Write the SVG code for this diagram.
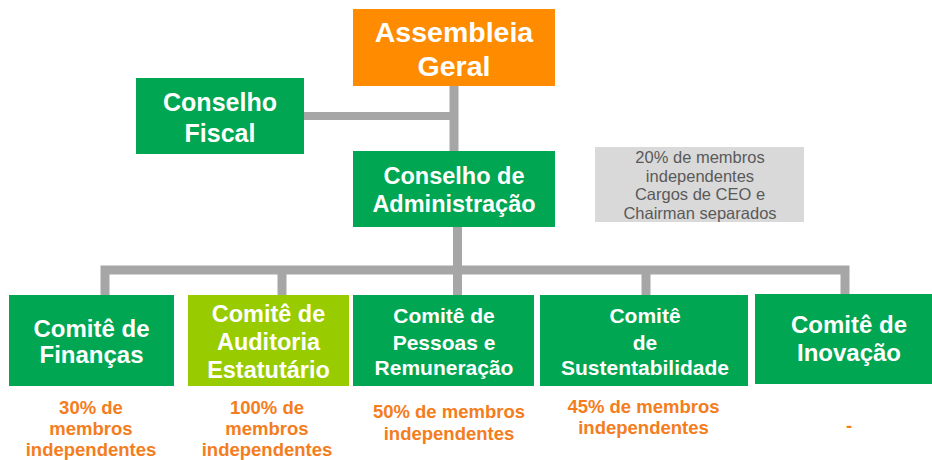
<svg xmlns="http://www.w3.org/2000/svg" width="932" height="460" viewBox="0 0 932 460">
<style>
.t{font-family:"Liberation Sans",Arial,sans-serif;font-weight:bold;fill:#ffffff;text-anchor:middle}
.g{fill:#00A651}
.o{font-family:"Liberation Sans",Arial,sans-serif;font-weight:bold;fill:#F47D20;text-anchor:middle;font-size:18.5px}
.n{font-family:"Liberation Sans",Arial,sans-serif;fill:#595959;text-anchor:middle;font-size:16.5px}
.c{fill:none;stroke:#A6A6A6;stroke-width:9}
</style>
<rect width="932" height="460" fill="#ffffff"/>
<g id="connectors">
<path class="c" d="M454,86 V151"/>
<path class="c" d="M304,116 H454" style="stroke-width:8"/>
<path class="c" d="M457.5,227 V295"/>
<path class="c" d="M105,295 V270 H845 V295"/>
<path class="c" d="M282,270 V295"/>
<path class="c" d="M646,270 V295"/>
</g>
<g id="assembleia">
<rect x="353" y="9" width="202" height="77" fill="#FF8C00"/>
<text class="t" x="454" y="42" font-size="28.5">Assembleia</text>
<text class="t" x="454" y="76" font-size="28.5">Geral</text>
</g>
<g id="conselho-fiscal">
<rect class="g" x="136" y="78" width="168" height="76"/>
<text class="t" x="220" y="111" font-size="25">Conselho</text>
<text class="t" x="220" y="142" font-size="25">Fiscal</text>
</g>
<g id="conselho-administracao">
<rect class="g" x="353" y="151" width="202" height="76"/>
<text class="t" x="454" y="184" font-size="23.5">Conselho de</text>
<text class="t" x="454" y="212" font-size="23.5">Administração</text>
</g>
<g id="nota-conselho">
<rect x="595" y="147" width="209" height="75" fill="#D9D9D9"/>
<text class="n" x="700" y="163">20% de membros</text>
<text class="n" x="700" y="182">independentes</text>
<text class="n" x="700" y="200">Cargos de CEO e</text>
<text class="n" x="700" y="219">Chairman separados</text>
</g>
<g id="comite-financas">
<rect class="g" x="9" y="295" width="165" height="91"/>
<text class="t" x="91.5" y="337" font-size="24">Comitê de</text>
<text class="t" x="91.5" y="363" font-size="24">Finanças</text>
<text class="o" x="91" y="414">30% de</text>
<text class="o" x="91" y="435">membros</text>
<text class="o" x="91" y="456">independentes</text>
</g>
<g id="comite-auditoria">
<rect x="188" y="295" width="161" height="91" fill="#99CC00"/>
<text class="t" x="268.5" y="322" font-size="23.5">Comitê de</text>
<text class="t" x="268.5" y="350" font-size="23.5">Auditoria</text>
<text class="t" x="268.5" y="378" font-size="23.5">Estatutário</text>
<text class="o" x="267" y="414">100% de</text>
<text class="o" x="267" y="435">membros</text>
<text class="o" x="267" y="456">independentes</text>
</g>
<g id="comite-pessoas">
<rect class="g" x="353" y="295" width="181" height="91"/>
<text class="t" x="444" y="323" font-size="21">Comitê de</text>
<text class="t" x="444" y="350" font-size="21">Pessoas e</text>
<text class="t" x="444" y="375" font-size="21">Remuneração</text>
<text class="o" x="449" y="418">50% de membros</text>
<text class="o" x="449" y="440">independentes</text>
</g>
<g id="comite-sustentabilidade">
<rect class="g" x="540" y="295" width="208" height="91"/>
<text class="t" x="645" y="323" font-size="21">Comitê</text>
<text class="t" x="645" y="350" font-size="21">de</text>
<text class="t" x="645" y="375" font-size="21">Sustentabilidade</text>
<text class="o" x="643.5" y="413">45% de membros</text>
<text class="o" x="643.5" y="434">independentes</text>
</g>
<g id="comite-inovacao">
<rect class="g" x="755" y="294" width="190" height="90"/>
<text class="t" x="849" y="333" font-size="24">Comitê de</text>
<text class="t" x="849" y="361" font-size="24">Inovação</text>
<text class="o" x="849" y="432">-</text>
</g>
</svg>
